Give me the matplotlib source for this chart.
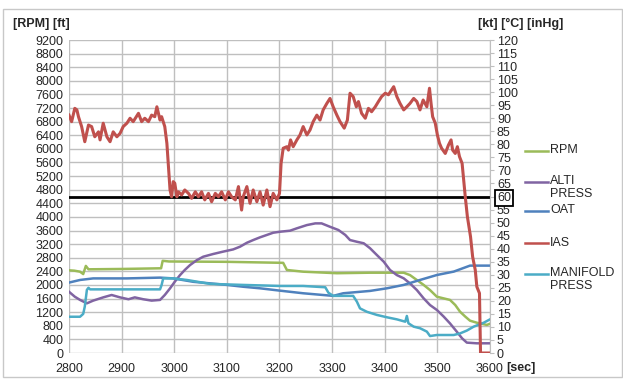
import matplotlib
matplotlib.use("Agg")
import matplotlib.pyplot as plt
from matplotlib.lines import Line2D
from matplotlib.patches import Rectangle

plt.rcParams['font.family'] = ['Liberation Sans', 'DejaVu Sans']
plt.rcParams['font.size'] = 9

# --- data ---
rpm_t = [2800, 2810, 2821, 2827, 2832, 2837, 2900, 2975, 2978, 2990,
         3100, 3207, 3214, 3245, 3309, 3372, 3436, 3448, 3461, 3474,
         3486, 3499, 3512, 3524, 3534, 3543, 3553, 3562, 3575, 3594, 3600]
rpm = [2430, 2420, 2390, 2320, 2560, 2460, 2470, 2490, 2710, 2690,
       2680, 2650, 2440, 2390, 2345, 2360, 2360, 2290, 2145, 2000,
       1850, 1655, 1605, 1560, 1410, 1215, 1070, 950, 890, 825, 860]

alti_t = [2800, 2811, 2821, 2834, 2846, 2865, 2881, 2897, 2913, 2925,
          2941, 2957, 2973, 2982, 2992, 3001, 3011, 3020, 3030, 3043,
          3055, 3074, 3093, 3112, 3125, 3138, 3150, 3163, 3176, 3188,
          3201, 3220, 3233, 3252, 3268, 3280, 3296, 3312, 3325, 3334,
          3347, 3360, 3372, 3385, 3398, 3410, 3423, 3436, 3448, 3461,
          3474, 3486, 3499, 3512, 3524, 3537, 3547, 3556, 3575, 3600]
alti = [1800, 1655, 1560, 1460, 1540, 1635, 1705, 1635, 1580, 1635,
        1580, 1540, 1560, 1705, 1900, 2095, 2290, 2440, 2585, 2730,
        2830, 2910, 2980, 3045, 3125, 3240, 3320, 3400, 3470, 3535,
        3565, 3595, 3665, 3760, 3810, 3810, 3710, 3615, 3470, 3320,
        3270, 3225, 3080, 2880, 2685, 2440, 2290, 2195, 2045, 1850,
        1605, 1410, 1265, 1070, 870, 625, 430, 305, 285, 285]

oat_t = [2800, 2821, 2846, 2910, 2973, 2998, 3036, 3068, 3100, 3131,
         3163, 3201, 3245, 3302, 3321, 3372, 3404, 3436, 3467, 3499,
         3531, 3562, 3600]
oat = [27.0, 28.0, 28.6, 28.6, 28.9, 28.6, 27.3, 26.7, 26.1, 25.4,
       24.8, 23.9, 22.9, 21.9, 22.9, 23.8, 24.8, 26.1, 28.0, 29.9,
       31.2, 33.5, 33.5]

ias_t = [2800, 2805, 2811, 2815, 2818, 2824, 2830, 2837, 2843, 2849,
         2856, 2859, 2865, 2872, 2878, 2884, 2891, 2897, 2903, 2910,
         2916, 2922, 2932, 2938, 2944, 2951, 2957, 2963, 2967, 2973,
         2976, 2979, 2982, 2986, 2989, 2992, 2995, 2998, 3001, 3005,
         3008, 3014, 3020, 3027, 3033, 3040, 3046, 3052, 3058, 3065,
         3071, 3078, 3084, 3090, 3097, 3103, 3109, 3116, 3122, 3128,
         3131, 3138, 3144, 3150, 3157, 3163, 3169, 3176, 3182, 3188,
         3195, 3200, 3203, 3207, 3214, 3217, 3221, 3226, 3233, 3239,
         3245, 3252, 3258, 3264, 3271, 3277, 3283, 3290, 3296, 3302,
         3309, 3315, 3323, 3329, 3334, 3340, 3346, 3350, 3356, 3363,
         3369, 3375, 3382, 3388, 3394, 3401, 3407, 3417, 3423, 3429,
         3436, 3442, 3448, 3455, 3461, 3467, 3473, 3480, 3485, 3488,
         3491, 3496, 3500, 3504, 3508, 3515, 3521, 3526, 3529, 3534,
         3538, 3542, 3547, 3550, 3553, 3557, 3563, 3567, 3572, 3575,
         3580, 3582, 3600]
ias = [91.2, 88.7, 93.8, 93.2, 90.6, 86.8, 81.0, 87.4, 86.8, 82.9,
       84.8, 81.7, 88.1, 82.9, 81.0, 84.8, 82.9, 84.2, 86.8, 88.1,
       90.0, 88.7, 91.9, 88.7, 90.0, 88.7, 91.2, 90.6, 94.4, 89.3,
       90.6, 88.7, 86.8, 80.4, 71.4, 62.5, 59.9, 65.7, 65.1, 59.9,
       61.8, 60.6, 62.5, 61.2, 59.3, 61.8, 59.9, 61.8, 58.7, 61.2,
       58.0, 61.2, 59.9, 61.8, 58.7, 61.8, 59.9, 58.7, 63.8, 54.8,
       59.9, 63.8, 57.4, 62.5, 58.0, 61.8, 56.7, 62.5, 56.1, 61.2,
       58.7, 61.2, 72.7, 78.5, 79.1, 77.8, 81.7, 79.1, 81.7, 83.6,
       86.8, 83.6, 85.5, 88.7, 91.2, 89.3, 93.2, 95.7, 97.6, 94.4,
       91.2, 88.7, 86.2, 89.3, 99.6, 98.3, 94.4, 96.4, 91.9, 90.0,
       93.8, 92.5, 94.4, 96.4, 98.3, 99.6, 99.0, 102.1, 98.3, 95.7,
       93.2, 94.4, 95.7, 97.6, 96.4, 93.2, 97.0, 94.4, 101.5, 95.7,
       90.6, 88.1, 83.6, 80.4, 78.5, 76.5, 79.7, 81.7, 77.8, 76.5,
       79.1, 75.3, 72.7, 66.3, 59.9, 52.3, 44.6, 36.9, 31.8, 25.4,
       22.9, 0.0, 0.0]

man_t = [2800, 2821, 2827, 2830, 2834, 2837, 2840, 2973, 2976, 2979,
         2998, 3024, 3068, 3131, 3201, 3245, 3287, 3293, 3302, 3340,
         3347, 3353, 3366, 3385, 3404, 3423, 3439, 3442, 3445, 3455,
         3467, 3480, 3486, 3499, 3531, 3543, 3556, 3569, 3588, 3600]
man = [13.9, 13.9, 15.0, 17.8, 24.2, 25.0, 24.4, 24.4, 26.1, 28.6,
       28.6, 28.0, 26.5, 26.1, 25.7, 25.7, 25.2, 23.1, 21.9, 21.9,
       19.7, 17.1, 15.8, 14.6, 13.7, 12.9, 12.0, 14.2, 11.4, 10.1,
       9.5, 8.2, 6.5, 6.9, 6.9, 7.5, 8.6, 10.1, 11.6, 12.9]

ias_limit = 60
x_ticks = list(range(2800, 3601, 100))
left_ticks = list(range(0, 9201, 400))
right_ticks = list(range(0, 121, 5))

names = ['RPM', 'ALTI\nPRESS', 'OAT', 'IAS', 'MANIFOLD\nPRESS']
colors = ['#9BBB59', '#8064A2', '#4F81BD', '#C0504D', '#4BACC6']

# --- figure ---
W, H = 623, 383
fig = plt.figure(figsize=(W / 100, H / 100), dpi=100)
fig.patches.append(Rectangle((3 / W, 1 - 377 / H), 619 / W, 368 / H,
                             transform=fig.transFigure, fill=False,
                             edgecolor='#c8c8c8', linewidth=1))

ax = fig.add_axes([69 / W, 1 - 353 / H, 421 / W, 313 / H])
ax2 = ax.twinx()

txt = '#262626'
grid_c = '#bfbfbf'

ax.plot(rpm_t, rpm, color=colors[0], lw=1.8)
ax.plot(alti_t, alti, color=colors[1], lw=1.8)
ax2.plot(oat_t, oat, color=colors[2], lw=1.8)
ax2.plot(man_t, man, color=colors[4], lw=1.8)
ax2.axhline(ias_limit, color='black', lw=2)
ax2.plot(ias_t, ias, color=colors[3], lw=2.2)

ax.set_xlim(2800, 3600)
ax.set_ylim(0, 9200)
ax2.set_ylim(0, 120)
ax.set_xticks(x_ticks)
ax.set_yticks(left_ticks)
ax2.set_yticks(right_ticks)

ax.grid(True, color=grid_c, lw=1)
ax.set_axisbelow(True)
for a in (ax, ax2):
    for s in a.spines.values():
        s.set_visible(False)
ax2.spines['right'].set_visible(True)
ax2.spines['right'].set_color(grid_c)

ax.tick_params(axis='y', length=0, labelsize=9, labelcolor=txt, pad=4)
ax.tick_params(axis='x', length=0, labelsize=9, labelcolor=txt, pad=7)
ax2.tick_params(axis='y', length=3, color=grid_c, labelsize=9,
                labelcolor=txt, pad=2)

fig.canvas.draw()
tick60 = ax2.yaxis.get_major_ticks()[right_ticks.index(ias_limit)]
tick60.label2.set_bbox(dict(facecolor='white', edgecolor='black',
                            linewidth=1.3, boxstyle='square,pad=0.15'))

fig.text(13 / W, 1 - 24 / H, '[RPM] [ft]', fontsize=9, fontweight='bold',
         color=txt, va='center', ha='left')
fig.text(478 / W, 1 - 24 / H, '[kt] [°C] [inHg]', fontsize=9,
         fontweight='bold', color=txt, va='center', ha='left')
fig.text(506 / W, 1 - 368 / H, '[sec]', fontsize=9, fontweight='bold',
         color=txt, va='center', ha='left')

# legend drawn by hand (Excel style, labels wrap)
leg_y = [151, 182, 211, 243, 274]
for name, c, y in zip(names, colors, leg_y):
    fig.add_artist(Line2D([525 / W, 548 / W], [1 - y / H, 1 - y / H],
                          color=c, lw=1.8, transform=fig.transFigure))
    fig.text(550 / W, 1 - (y - 6.5) / H, name, fontsize=9, color=txt,
             va='top', ha='left', linespacing=1.05)

fig.savefig('out.png', dpi=100)
